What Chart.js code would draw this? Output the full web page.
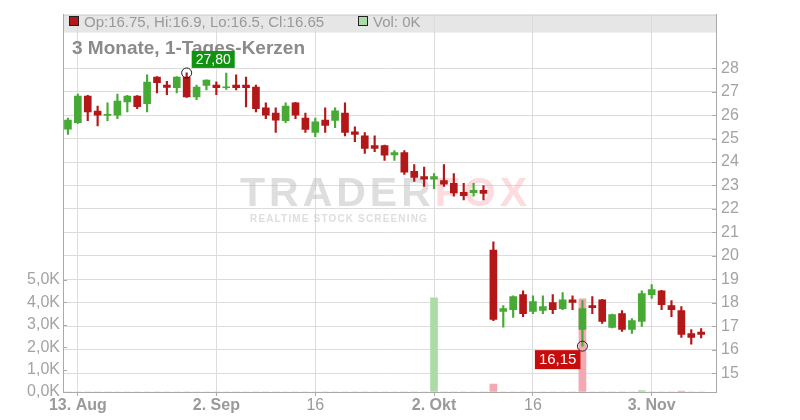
<!DOCTYPE html>
<html>
<head>
<meta charset="utf-8">
<script src="https://cdn.jsdelivr.net/npm/chart.js@4.4.1/dist/chart.umd.min.js"></script>
<style>
  html, body { margin: 0; padding: 0; background: #fff; }
  #wrap { width: 800px; height: 420px; }
</style>
</head>
<body>
<div id="wrap"><canvas id="chart1"></canvas></div>
<script>
"use strict";

// trading days (last slot stays empty)
var days = ['12.08','13.08','14.08','15.08','16.08','19.08','20.08','21.08','22.08','23.08','26.08','27.08','28.08','29.08','30.08',
  '02.09','03.09','04.09','05.09','06.09','09.09','10.09','11.09','12.09','13.09','16.09','17.09','18.09','19.09','20.09','23.09','24.09','25.09','26.09','27.09','30.09',
  '01.10','02.10','03.10','04.10','07.10','08.10','09.10','10.10','11.10','14.10','15.10','16.10','17.10','18.10','21.10','22.10','23.10','24.10','25.10','28.10','29.10','30.10','31.10',
  '01.11','04.11','05.11','06.11','07.11','08.11','11.11'];

var open  = [25.40,25.68,26.81,26.17,25.99,26.00,26.56,26.81,26.49,27.62,27.28,27.17,27.62,26.78,27.27,27.28,27.17,27.28,27.28,27.20,26.31,26.09,25.76,26.52,25.88,25.26,25.79,25.77,26.09,25.29,25.12,24.70,24.70,24.30,24.40,23.60,23.38,23.27,23.21,23.09,22.71,22.69,22.79,20.25,17.63,17.71,18.35,17.63,17.67,18.01,17.75,18.13,16.86,17.88,18.13,16.95,17.54,16.86,17.20,18.35,18.51,17.88,17.67,16.69,16.75];
var high  = [25.88,26.90,26.85,26.39,26.52,26.90,26.85,26.83,27.72,27.64,27.44,27.64,27.80,27.28,27.51,27.42,27.79,27.72,27.62,27.28,26.52,26.31,26.52,26.55,26.09,25.88,26.31,26.31,26.52,25.50,25.26,25.12,24.72,24.49,24.49,23.89,23.79,23.51,23.89,23.51,23.09,23.09,23.00,20.60,17.88,18.30,18.51,18.30,18.30,18.35,18.43,18.30,18.09,18.26,18.15,17.52,17.67,17.33,18.51,18.77,18.53,18.09,17.84,16.86,16.90];
var low   = [25.18,25.65,25.76,25.54,25.76,25.85,26.14,26.28,26.14,26.95,26.87,26.95,26.76,26.66,27.08,26.87,27.10,27.08,26.35,26.14,25.85,25.26,25.68,25.85,25.26,25.08,25.26,25.47,25.11,24.87,24.37,24.44,24.07,24.07,23.47,23.17,22.96,22.86,22.96,22.54,22.38,22.54,22.38,17.24,16.96,17.38,17.41,17.54,17.54,17.54,17.71,17.71,16.15,17.54,17.12,16.93,16.78,16.69,16.99,18.18,17.71,17.41,16.52,16.23,16.50];
var close = [25.79,26.81,26.14,26.00,26.03,26.60,26.81,26.36,27.41,27.38,27.18,27.62,26.78,27.20,27.49,27.17,27.21,27.17,27.17,26.28,26.00,25.79,26.39,26.00,25.39,25.71,25.56,26.18,25.26,25.18,24.58,24.58,24.29,24.40,23.57,23.34,23.27,23.38,23.06,22.68,22.57,22.79,22.66,17.29,17.75,18.26,17.54,18.05,17.84,17.71,18.13,18.01,17.75,17.79,17.20,17.50,16.86,17.24,18.39,18.56,17.92,17.71,16.65,16.52,16.65];
var volume = [0,0,0,0,0,0,0,0,0,0,0,0,0,0,0,0,0,0,0,0,0,0,0,0,0,0,0,0,0,0,0,0,0,0,0,0,0,4200,0,0,0,0,0,350,0,0,0,0,0,0,0,0,4150,0,0,0,0,0,60,0,0,0,40,0,0];

var xTickPos  = [1, 15, 25, 37, 47, 59];
var xTickText = ['13. Aug', '2. Sep', '16', '2. Okt', '16', '3. Nov'];
var priceTicks = [15, 16, 17, 18, 19, 20, 21, 22, 23, 24, 25, 26, 27, 28];
var volTicks = [0, 1000, 2000, 3000, 4000, 5000];

var RED = '#b31717', GREEN = '#47aa35';
var VOL_UP = '#abdba7', VOL_DN = '#f2a9b2';
var FONT = '"Liberation Sans", Arial, sans-serif';

var bodies = open.map(function (o, i) { return [o, close[i]]; });
var wicks = low.map(function (l, i) { return [l, high[i]]; });
var candleColors = open.map(function (o, i) { return close[i] >= o ? GREEN : RED; });
var volColors = close.map(function (c, i) { return (i > 0 && c < close[i - 1]) ? VOL_DN : VOL_UP; });

function fmt(v) { return v.toFixed(2).replace('.', ','); }

var decor = {
  id: 'decor',
  beforeDraw: function (chart) {
    var ctx = chart.ctx, a = chart.chartArea;
    ctx.save();
    ctx.fillStyle = '#e6e6e6';
    ctx.fillRect(a.left, a.top, a.right - a.left, 18);
    ctx.strokeStyle = '#cfcfcf';
    ctx.lineWidth = 1;
    ctx.beginPath();
    ctx.moveTo(a.left, a.top + 0.5);
    ctx.lineTo(a.right, a.top + 0.5);
    ctx.stroke();
    ctx.restore();
  },
  beforeDatasetsDraw: function (chart) {
    var ctx = chart.ctx;
    ctx.save();
    // watermark
    ctx.font = 'bold 41px ' + FONT;
    ctx.letterSpacing = '4px';
    ctx.textBaseline = 'alphabetic';
    ctx.fillStyle = 'rgba(190,190,190,0.5)';
    ctx.fillText('TRADER', 240, 206);
    var w = ctx.measureText('TRADER').width;
    ctx.fillStyle = 'rgba(250,165,175,0.4)';
    ctx.fillText('FOX', 240 + w, 206);
    ctx.font = 'bold 10px ' + FONT;
    ctx.letterSpacing = '0px';
    var sub = 'REALTIME STOCK SCREENING';
    var ls = (178 - ctx.measureText(sub).width) / sub.length;
    ctx.letterSpacing = ls + 'px';
    ctx.fillStyle = 'rgba(190,190,190,0.5)';
    ctx.fillText(sub, 250, 222);
    ctx.letterSpacing = '0px';
    // title
    ctx.font = 'bold 19px ' + FONT;
    ctx.fillStyle = '#8a8a8a';
    ctx.fillText('3 Monate, 1-Tages-Kerzen', 72, 54);
    ctx.restore();
  },
  afterDatasetsDraw: function (chart) {
    var ctx = chart.ctx, xs = chart.scales.x, ys = chart.scales.y;
    var hi = Math.max.apply(null, high), lo = Math.min.apply(null, low);
    var ih = high.indexOf(hi), il = low.indexOf(lo);
    var hx = xs.getPixelForValue(ih), hy = ys.getPixelForValue(hi);
    var lx = xs.getPixelForValue(il), ly = ys.getPixelForValue(lo);
    ctx.save();
    ctx.strokeStyle = '#222';
    ctx.lineWidth = 1;
    [[hx, hy], [lx, ly]].forEach(function (p) {
      ctx.beginPath();
      ctx.arc(p[0], p[1], 5, 0, Math.PI * 2);
      ctx.stroke();
    });
    ctx.textAlign = 'center';
    ctx.textBaseline = 'middle';
    // high label
    ctx.font = '14px ' + FONT;
    var t = fmt(hi), tw = ctx.measureText(t).width + 8;
    ctx.fillStyle = '#119311';
    ctx.fillRect(hx + 5, hy - 22, tw, 17);
    ctx.fillStyle = '#fff';
    ctx.fillText(t, hx + 5 + tw / 2, hy - 13);
    // low label
    ctx.font = '15px ' + FONT;
    t = fmt(lo); tw = ctx.measureText(t).width + 8;
    ctx.fillStyle = '#c80b0b';
    ctx.fillRect(lx - 2 - tw, ly + 4, tw, 19);
    ctx.fillStyle = '#fff';
    ctx.fillText(t, lx - 2 - tw / 2, ly + 14);
    ctx.restore();
  },
  afterDraw: function (chart) {
    var ctx = chart.ctx, a = chart.chartArea, n = open.length - 1;
    ctx.save();
    // header legend
    ctx.lineWidth = 1;
    ctx.strokeStyle = '#222';
    ctx.fillStyle = RED;
    ctx.fillRect(69, 16, 10, 10);
    ctx.strokeRect(69.5, 16.5, 9, 9);
    ctx.fillStyle = VOL_UP;
    ctx.fillRect(358, 16, 10, 10);
    ctx.strokeRect(358.5, 16.5, 9, 9);
    ctx.font = '15px ' + FONT;
    ctx.fillStyle = '#999';
    ctx.textBaseline = 'alphabetic';
    ctx.fillText('Op:' + open[n] + ', Hi:' + high[n] + ', Lo:' + low[n] + ', Cl:' + close[n], 84, 26.5);
    ctx.fillText('Vol: ' + (volume[n] / 1000) + 'K', 373, 26.5);
    // inward tick marks
    ctx.strokeStyle = '#aaa';
    var ys = chart.scales.y, vs = chart.scales.v;
    ys.ticks.forEach(function (tk) {
      var y = Math.round(ys.getPixelForValue(tk.value)) + 0.5;
      ctx.beginPath(); ctx.moveTo(a.right - 4, y); ctx.lineTo(a.right, y); ctx.stroke();
    });
    vs.ticks.forEach(function (tk) {
      var y = Math.round(vs.getPixelForValue(tk.value)) + 0.5;
      ctx.beginPath(); ctx.moveTo(a.left, y); ctx.lineTo(a.left + 4, y); ctx.stroke();
    });
    ctx.restore();
  }
};

var ctx = document.getElementById('chart1').getContext('2d');
var myChart = new Chart(ctx, {
  type: 'bar',
  data: {
    labels: days,
    datasets: [{
      label: 'Volume',
      data: volume,
      yAxisID: 'v',
      backgroundColor: volColors,
      barThickness: 7,
      grouped: false,
      order: 3
    },
    {
      label: 'Wick',
      data: wicks,
      yAxisID: 'y',
      backgroundColor: candleColors,
      barThickness: 1.5,
      grouped: false,
      order: 2
    },
    {
      label: 'Body',
      data: bodies,
      yAxisID: 'y',
      backgroundColor: candleColors,
      barThickness: 7,
      grouped: false,
      order: 1
    }]
  },
  options: {
    responsive: true,
    maintainAspectRatio: false,
    animation: false,
    layout: { padding: { top: 12, left: 0, right: 0, bottom: 0 } },
    plugins: {
      legend: { display: false },
      tooltip: { enabled: false }
    },
    scales: {
      x: {
        offset: true,
        grid: { offset: false, color: '#dcdcdc', tickColor: '#aaa', tickLength: 4 },
        border: { color: '#aaa' },
        ticks: {
          autoSkip: false,
          maxRotation: 0,
          padding: 0,
          color: '#9a9a9a',
          font: function (c) {
            var lab = (c.tick && c.tick.label) ? String(c.tick.label) : '';
            return { family: FONT, size: 16, weight: lab.indexOf('.') >= 0 ? 'bold' : 'normal' };
          },
          callback: function (val, i) {
            var k = xTickPos.indexOf(i);
            return k >= 0 ? xTickText[k] : null;
          }
        },
        afterFit: function (s) { s.height = 28; }
      },
      y: {
        position: 'right',
        min: 14.195,
        max: 30.287,
        afterBuildTicks: function (s) { s.ticks = priceTicks.map(function (v) { return { value: v }; }); },
        grid: { color: '#dcdcdc', drawTicks: false },
        border: { color: '#aaa' },
        ticks: { color: '#a3a3a3', padding: 5, font: { family: FONT, size: 16 } },
        afterFit: function (s) { s.width = 84; }
      },
      v: {
        position: 'left',
        min: 0,
        max: 16814,
        afterBuildTicks: function (s) { s.ticks = volTicks.map(function (v) { return { value: v }; }); },
        grid: { drawOnChartArea: false, drawTicks: false },
        border: { color: '#aaa' },
        ticks: {
          color: '#a3a3a3',
          padding: 3,
          font: { family: FONT, size: 16 },
          callback: function (v) { return (v / 1000).toFixed(1).replace('.', ',') + 'K'; }
        },
        afterFit: function (s) { s.width = 63; }
      }
    }
  },
  plugins: [decor]
});
</script>
</body>
</html>
